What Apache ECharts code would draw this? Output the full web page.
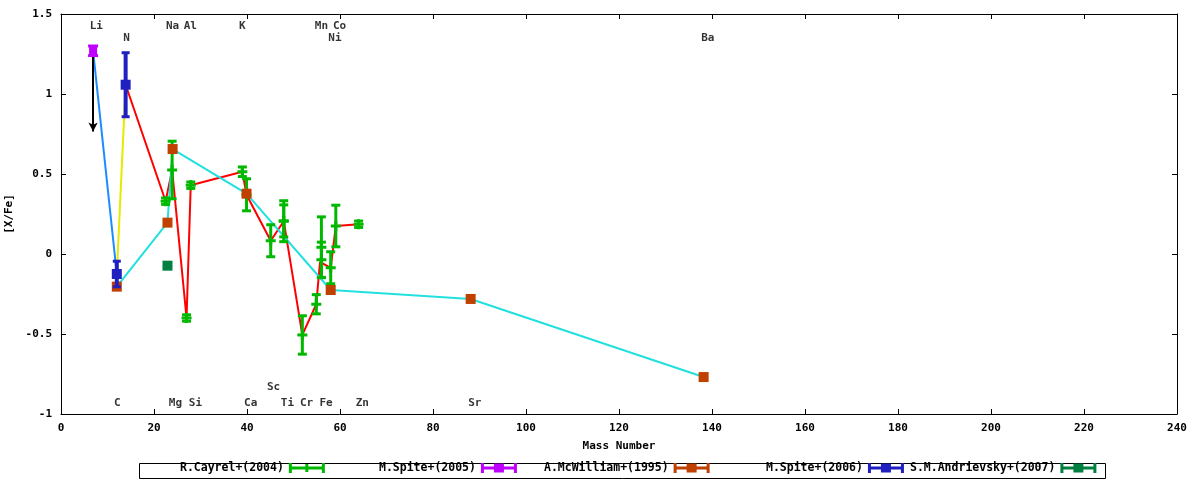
<!DOCTYPE html>
<html>
<head>
<meta charset="utf-8">
<script src="https://cdn.jsdelivr.net/npm/echarts@6/dist/echarts.min.js"></script>
<style>html,body{margin:0;padding:0;background:#fff}#c{width:1200px;height:480px}</style>
</head>
<body>
<div id="c"></div>
<script>
// ---- data ----
const xTicks = [0, 20, 40, 60, 80, 100, 120, 140, 160, 180, 200, 220, 240];
const yTicks = [-1, -0.5, 0, 0.5, 1, 1.5];

const cayrelX   = [22.5, 23.9, 27.0, 27.9, 39.0, 39.9, 45.1, 47.9, 47.9, 51.9, 54.9, 56.0, 56.0, 58.0, 59.1, 64.0];
const cayrelY   = [0.33, 0.525, -0.40, 0.43, 0.514, 0.37, 0.083, 0.205, 0.207, -0.506, -0.314, 0.042, -0.036, -0.086, 0.175, 0.186];
const cayrelErr = [0.02, 0.18, 0.02, 0.02, 0.03, 0.10, 0.10, 0.128, 0.10, 0.12, 0.06, 0.19, 0.11, 0.10, 0.13, 0.02];

const spite05X = [6.9];
const spite05Y = [1.27];
const spite05Err = [0.03];

const mcwX = [12.0, 22.9, 24.0, 39.9, 58.0, 88.1, 138.2];
const mcwY = [-0.204, 0.196, 0.656, 0.377, -0.225, -0.281, -0.769];
const mcwErr = [0, 0, 0, 0, 0, 0, 0];

const spite06X = [13.9, 12.0];
const spite06Y = [1.058, -0.125];
const spite06Err = [0.2, 0.08];

const andrX = [22.9];
const andrY = [-0.073];
const andrErr = [0];

const redX = [13.9, 22.5, 23.9, 27.0, 27.9, 39.0, 39.9, 45.1, 47.9, 51.9, 54.9, 55.7, 58.0, 59.1, 64.0];
const redY = [1.058, 0.33, 0.525, -0.40, 0.43, 0.514, 0.37, 0.083, 0.205, -0.506, -0.314, -0.05, -0.086, 0.175, 0.186];

const cyanX = [12.0, 22.9, 24.0, 39.9, 58.0, 88.1, 138.2];
const cyanY = [-0.204, 0.196, 0.656, 0.377, -0.225, -0.281, -0.769];

const liLineX = [6.9, 12.0];
const liLineY = [1.27, -0.125];

const nLineX = [13.9, 12.0];
const nLineY = [1.058, -0.125];

const arrowX = [6.9, 6.9];
const arrowY = [1.27, 0.765];

const labelNames = ['Li','N','Na','Al','K','Mn','Co','Ni','Ba','C','Sc','Mg','Si','Ca','Ti','Cr','Fe','Zn','Sr'];
const labelX = [7.6, 14.1, 24.0, 27.8, 39.0, 56.0, 59.9, 58.9, 139.1, 12.1, 45.7, 24.6, 28.9, 40.8, 48.7, 52.8, 57.0, 64.8, 89.0];
const labelY = [1.425, 1.35, 1.425, 1.425, 1.425, 1.425, 1.425, 1.35, 1.35, -0.931, -0.831, -0.931, -0.931, -0.931, -0.931, -0.931, -0.931, -0.931, -0.931];

const legendNames = ['R.Cayrel+(2004)', 'M.Spite+(2005)', 'A.McWilliam+(1995)', 'M.Spite+(2006)', 'S.M.Andrievsky+(2007)'];

// ---- helpers ----
const zip2 = (a, b) => a.map((v, i) => [v, b[i]]);
const zip3 = (a, b, c) => a.map((v, i) => [v, b[i], c[i]]);
const FONT = 'DejaVu Sans Mono';

function errRender(opt) {
  return function (params, api) {
    const x = api.value(0), y = api.value(1), e = api.value(2);
    const c = api.coord([x, y]);
    const t = api.coord([x, y + e]);
    const b = api.coord([x, y - e]);
    const col = opt.color;
    const kids = [];
    if (e > 0) {
      kids.push({ type: 'rect', shape: { x: c[0] - opt.bw / 2, y: t[1], width: opt.bw, height: b[1] - t[1] }, style: { fill: col } });
      kids.push({ type: 'rect', shape: { x: c[0] - opt.cw / 2, y: t[1] - 1.5, width: opt.cw, height: 3 }, style: { fill: col } });
      kids.push({ type: 'rect', shape: { x: c[0] - opt.cw / 2, y: b[1] - 1.5, width: opt.cw, height: 3 }, style: { fill: col } });
    }
    if (opt.marker === 'plus') {
      kids.push({ type: 'rect', shape: { x: c[0] - opt.ms / 2, y: c[1] - 1.5, width: opt.ms, height: 3 }, style: { fill: col } });
      kids.push({ type: 'rect', shape: { x: c[0] - 1.5, y: c[1] - opt.ms / 2, width: 3, height: opt.ms }, style: { fill: col } });
    } else {
      kids.push({ type: 'rect', shape: { x: c[0] - opt.ms / 2, y: c[1] - opt.ms / 2, width: opt.ms, height: opt.ms }, style: { fill: col } });
    }
    return { type: 'group', children: kids };
  };
}

const iconPlus = 'path://M0,0H3V10H0Z M33,0H36V10H33Z M0,3.5H36V6.5H0Z M16.5,1H19.5V9H16.5Z';
const iconSq = 'path://M0,0H3V10H0Z M33,0H36V10H33Z M0,3.5H36V6.5H0Z M13,0.5H23V9.5H13Z';

const COL = {
  cayrel: '#00b800', spite05: '#c000ff', mcw: '#c04000', spite06: '#2020c0', andr: '#008040',
  red: '#ff0000', cyan: '#22e0e0', lblue: '#1a8cff', yellow: '#e8e800'
};

const legendLeft = [180, 379, 544, 766, 910];
const legendIcons = [iconPlus, iconSq, iconSq, iconSq, iconSq];

const chart = echarts.init(document.getElementById('c'), null, { renderer: 'canvas' });

const axisCommon = {
  axisLine: { show: true, onZero: false, lineStyle: { color: '#000', width: 1 } },
  axisTick: { show: true, inside: true, length: 5, lineStyle: { color: '#000' } },
  splitLine: { show: false },
};

const option = {
  animation: false,
  backgroundColor: '#fff',
  grid: { left: 61, right: 23, top: 14, bottom: 66, containLabel: false, outerBoundsMode: 'none' },
  xAxis: [
    Object.assign({
      type: 'value', min: xTicks[0], max: xTicks[xTicks.length - 1], interval: 20, position: 'bottom',
      name: 'Mass Number', nameLocation: 'middle', nameGap: 27,
      nameTextStyle: { fontFamily: FONT, fontSize: 11, fontWeight: 'bold', color: '#000' },
      axisLabel: { fontFamily: FONT, fontSize: 11, fontWeight: 'bold', color: '#000', margin: 9 }
    }, axisCommon),
    Object.assign({
      type: 'value', min: xTicks[0], max: xTicks[xTicks.length - 1], interval: 20, position: 'top',
      axisLabel: { show: false }
    }, axisCommon)
  ],
  yAxis: [
    Object.assign({
      type: 'value', min: yTicks[0], max: yTicks[yTicks.length - 1], interval: 0.5, position: 'left',
      name: '[X/Fe]', nameLocation: 'middle', nameGap: 40, nameRotate: 90,
      nameTextStyle: { fontFamily: FONT, fontSize: 11, fontWeight: 'bold', color: '#000' },
      axisLabel: { fontFamily: FONT, fontSize: 11, fontWeight: 'bold', color: '#000', margin: 9 }
    }, axisCommon),
    Object.assign({
      type: 'value', min: yTicks[0], max: yTicks[yTicks.length - 1], interval: 0.5, position: 'right',
      axisLabel: { show: false }
    }, axisCommon)
  ],
  legend: legendNames.map((n, i) => ({
    data: [{ name: n, icon: legendIcons[i] }],
    left: legendLeft[i], top: 462, padding: 0, align: 'right',
    itemWidth: 36, itemHeight: 10, selectedMode: false,
    textStyle: { fontFamily: FONT, fontSize: 11.5, fontWeight: 'bold', color: '#000' }
  })),
  graphic: [{
    type: 'rect', left: 137, top: 461, shape: { width: 966, height: 15 },
    style: { fill: 'none', stroke: '#000', lineWidth: 1 }, silent: true
  }],
  series: [
    { type: 'line', data: zip2(liLineX, liLineY), showSymbol: false, symbol: 'none', lineStyle: { color: COL.lblue, width: 2 }, z: 2 },
    { type: 'line', data: zip2(nLineX, nLineY), showSymbol: false, symbol: 'none', lineStyle: { color: COL.yellow, width: 2 }, z: 2 },
    { type: 'line', data: zip2(redX, redY), showSymbol: false, symbol: 'none', lineStyle: { color: COL.red, width: 2 }, z: 2 },
    { type: 'line', data: zip2(cyanX, cyanY), showSymbol: false, symbol: 'none', lineStyle: { color: COL.cyan, width: 2 }, z: 2,
      markLine: {
        silent: true, symbol: ['none', 'arrow'], symbolSize: [7, 9],
        lineStyle: { color: '#000', width: 2, type: 'solid' }, label: { show: false },
        data: [[{ coord: [arrowX[0], arrowY[0]] }, { coord: [arrowX[1], arrowY[1]] }]]
      }
    },
    { name: legendNames[0], type: 'custom', data: zip3(cayrelX, cayrelY, cayrelErr), encode: { x: 0, y: 1 }, z: 5,
      itemStyle: { color: COL.cayrel },
      renderItem: errRender({ color: COL.cayrel, bw: 3, cw: 9, ms: 10, marker: 'plus' }) },
    { name: legendNames[1], type: 'custom', data: zip3(spite05X, spite05Y, spite05Err), encode: { x: 0, y: 1 }, z: 5,
      itemStyle: { color: COL.spite05 },
      renderItem: errRender({ color: COL.spite05, bw: 4, cw: 10, ms: 8, marker: 'square' }) },
    { name: legendNames[2], type: 'custom', data: zip3(mcwX, mcwY, mcwErr), encode: { x: 0, y: 1 }, z: 6,
      itemStyle: { color: COL.mcw },
      renderItem: errRender({ color: COL.mcw, bw: 3, cw: 9, ms: 10, marker: 'square' }) },
    { name: legendNames[3], type: 'custom', data: zip3(spite06X, spite06Y, spite06Err), encode: { x: 0, y: 1 }, z: 7,
      itemStyle: { color: COL.spite06 },
      renderItem: errRender({ color: COL.spite06, bw: 4, cw: 8, ms: 10, marker: 'square' }) },
    { name: legendNames[4], type: 'custom', data: zip3(andrX, andrY, andrErr), encode: { x: 0, y: 1 }, z: 6,
      itemStyle: { color: COL.andr },
      renderItem: errRender({ color: COL.andr, bw: 3, cw: 9, ms: 10, marker: 'square' }) },
    { type: 'scatter', data: labelNames.map((n, i) => ({ name: n, value: [labelX[i], labelY[i]] })),
      symbolSize: 1, itemStyle: { color: 'rgba(0,0,0,0)' }, z: 8, silent: true,
      label: { show: true, position: 'inside', formatter: p => p.name, fontFamily: FONT, fontSize: 11, fontWeight: 'bold', color: '#000' } }
  ]
};
chart.setOption(option);
</script>
</body>
</html>
